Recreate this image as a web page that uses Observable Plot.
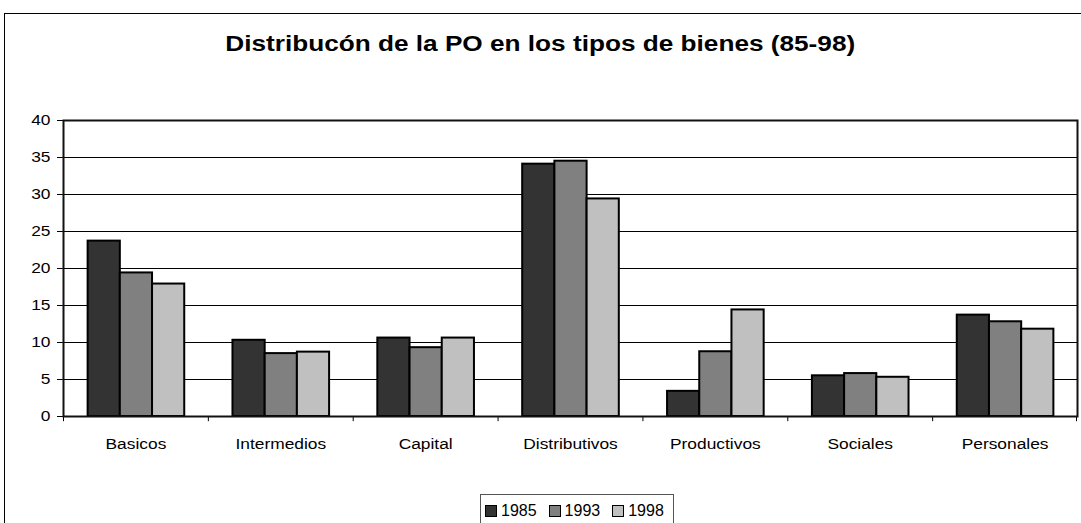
<!DOCTYPE html>
<html>
<head>
<meta charset="utf-8">
<script src="https://cdn.jsdelivr.net/npm/d3@7"></script>
<script src="https://cdn.jsdelivr.net/npm/@observablehq/plot@0.6"></script>
<style>
  html, body { margin: 0; padding: 0; background: #fff; }
  #wrap { position: relative; width: 1081px; height: 523px; overflow: hidden; font-family: "Liberation Sans", Arial, sans-serif; }
  #outer { position: absolute; left: 4px; top: 13px; width: 1200px; height: 700px; border: 1px solid #000; box-sizing: border-box; }
  #title { position: absolute; left: 0; top: 33px; width: 1081px; text-align: center; font-weight: bold; font-size: 22px; line-height: 22px; transform: scaleX(1.19); transform-origin: 542px 0; color: #000; }
  #chart { position: absolute; left: 0; top: 0; }
  #legend { position: absolute; left: 480px; top: 494px; height: 40px; border: 1px solid #555; box-sizing: border-box; display: flex; align-items: flex-start; padding: 8px 9px 0 4px; font-size: 16px; line-height: 16px; color: #000; }
  .item { display: flex; align-items: center; margin-right: 12px; }
  .item:last-child { margin-right: 0; }
  .sw { width: 10px; height: 10px; border: 1px solid #000; margin-right: 4px; }
</style>
</head>
<body>
<div id="wrap">
  <div id="outer"></div>
  <div id="chart"></div>
  <div id="title"></div>
  <div id="legend"></div>
</div>
<script>
const titleText = "Distribucón de la PO en los tipos de bienes (85-98)";
const categories = ["Basicos", "Intermedios", "Capital", "Distributivos", "Productivos", "Sociales", "Personales"];
const years = ["1985", "1993", "1998"];
const v1985 = [23.7, 10.3, 10.6, 34.1, 3.4, 5.5, 13.7];
const v1993 = [19.4, 8.5, 9.3, 34.5, 8.75, 5.8, 12.8];
const v1998 = [17.9, 8.7, 10.6, 29.4, 14.4, 5.3, 11.8];
const yTicks = [0, 5, 10, 15, 20, 25, 30, 35, 40];
const colors = ["#333333", "#808080", "#c0c0c0"];

const series = [v1985, v1993, v1998];
const rows = categories.flatMap((c, i) => years.map((y, j) => ({category: c, year: y, value: series[j][i]})));

const W = 1081, H = 470;
const mL = 63, mR = 4, mT = 120, mB = 54;
const step = (W - mL - mR) / categories.length;
const groupFrac = 0.667;
const barW = step * groupFrac / years.length;
const offL = (step - step * groupFrac) / 2 + 0.5;

const barMarks = years.map((yr, j) => Plot.barY(rows.filter(d => d.year === yr), {
  x: "category",
  y: "value",
  fill: colors[j],
  stroke: "#000",
  strokeWidth: 2,
  insetLeft: offL + j * barW,
  insetRight: step - offL - (j + 1) * barW
}));

const plot = Plot.plot({
  width: W,
  height: H,
  marginLeft: mL,
  marginRight: mR,
  marginTop: mT,
  marginBottom: mB,
  style: {fontFamily: "Liberation Sans, Arial, sans-serif", fontSize: "15.5px", color: "#000", background: "transparent"},
  x: {domain: categories, padding: 0, round: false, tickSize: 0, tickPadding: 21, label: null},
  y: {domain: [0, 40], ticks: yTicks, tickSize: 6, tickPadding: 7, label: null},
  marks: [
    Plot.ruleY(yTicks, {stroke: "#000", strokeWidth: 1}),
    ...barMarks,
    Plot.ruleX(categories, {x: d => d, dx: -step / 2, y1: 0, y2: -0.7, stroke: "#000", strokeWidth: 1}),
    Plot.ruleX([categories[categories.length - 1]], {x: d => d, dx: step / 2 - 1, y1: 0, y2: -0.7, stroke: "#000", strokeWidth: 1}),
    Plot.frame({stroke: "#111", strokeWidth: 2})
  ]
});
plot.style.background = "transparent";
document.getElementById("chart").appendChild(plot);
document.getElementById("title").textContent = titleText;

// the reference's text is slightly wider than its height suggests: stretch axis labels horizontally
plot.querySelectorAll("g[aria-label='x-axis tick label'] text, g[aria-label='y-axis tick label'] text, g[aria-label^='x-axis'] text, g[aria-label^='y-axis'] text").forEach(t => {
  const len = t.getComputedTextLength();
  if (len > 0) {
    t.setAttribute("textLength", (len * 1.12).toFixed(2));
    t.setAttribute("lengthAdjust", "spacingAndGlyphs");
  }
});

const legend = document.getElementById("legend");
years.forEach((yr, j) => {
  const it = document.createElement("div");
  it.className = "item";
  const sw = document.createElement("div");
  sw.className = "sw";
  sw.style.background = colors[j];
  const t = document.createElement("span");
  t.textContent = yr;
  it.appendChild(sw);
  it.appendChild(t);
  legend.appendChild(it);
});
</script>
</body>
</html>
